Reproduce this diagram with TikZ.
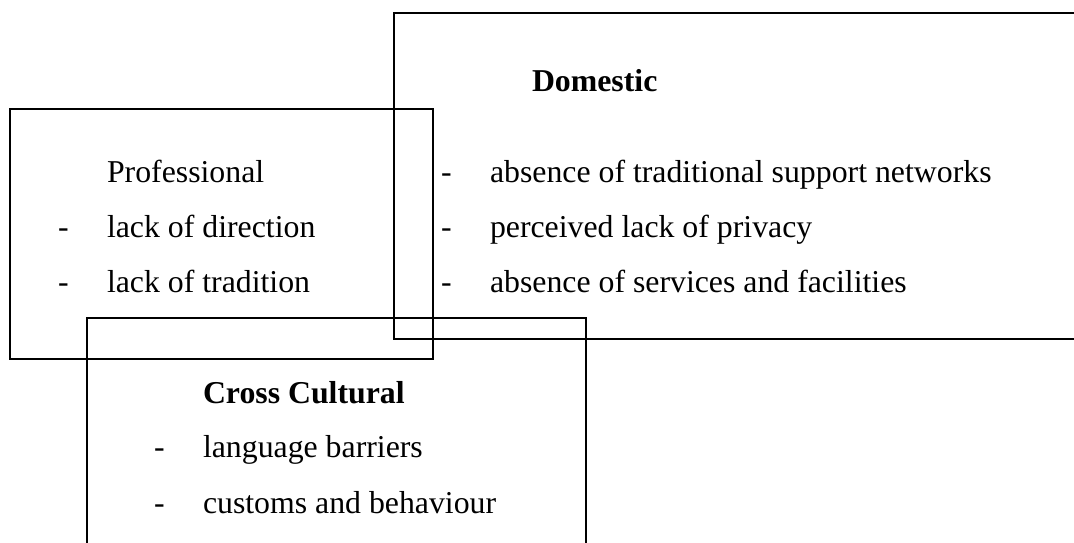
\documentclass[tikz,border=0pt]{standalone}
\usepackage{fontspec}
\setmainfont{Liberation Serif}
\begin{document}
\begin{tikzpicture}[x=1pt,y=-1pt,
  frame/.style={draw=black, line width=2pt, inner sep=0pt, outer sep=0pt, anchor=north west},
  txt/.style={inner sep=0pt, outer sep=0pt, anchor=base west, font=\fontsize{31.8}{38}\selectfont},
  head/.style={txt, font=\fontsize{31.8}{38}\selectfont\bfseries}]
\useasboundingbox (0,0) rectangle (1074,543);
\clip (0,0) rectangle (1074,543);
% boxes
\node[frame, minimum width=422.7pt, minimum height=249.7pt] (prof) at (10,109) {};
\node[frame, minimum width=700pt, minimum height=326.3pt] (dom) at (394,13) {};
\node[frame, minimum width=499.3pt, minimum height=250pt] (cross) at (86.7,318) {};
% Professional
\node[txt] (pt) at (107,182) {Professional};
\node[txt] (pd1) at (58,237) {-};
\node[txt] (pi1) at (107,237) {lack of direction};
\node[txt] (pd2) at (58,292) {-};
\node[txt] (pi2) at (107,292) {lack of tradition};
% Domestic
\node[head] (dt) at (532,92) {Domestic};
\node[txt] (dd1) at (441,182) {-};
\node[txt] (di1) at (490,182) {absence of traditional support networks};
\node[txt] (dd2) at (441,237) {-};
\node[txt] (di2) at (490,237) {perceived lack of privacy};
\node[txt] (dd3) at (441,292) {-};
\node[txt] (di3) at (490,292) {absence of services and facilities};
% Cross Cultural
\node[head] (ct) at (203,403) {Cross Cultural};
\node[txt] (cd1) at (154,457) {-};
\node[txt] (ci1) at (203,457) {language barriers};
\node[txt] (cd2) at (154,513) {-};
\node[txt] (ci2) at (203,513) {customs and behaviour};
\end{tikzpicture}
\end{document}
